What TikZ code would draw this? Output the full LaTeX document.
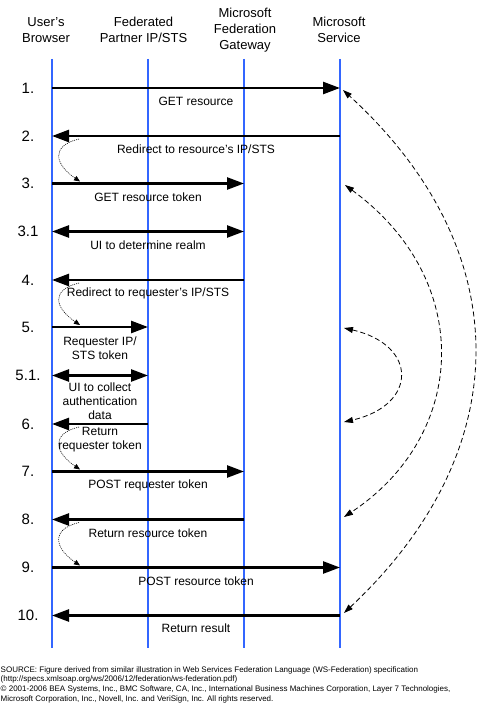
\documentclass[tikz,border=0pt]{standalone}
\usepackage{fontspec}
\setmainfont{Liberation Sans}
\usetikzlibrary{arrows.meta,calc}
\definecolor{lifeblue}{RGB}{51,102,255}
\begin{document}
\begin{tikzpicture}[x=1pt,y=-1pt,
  life/.style={draw=lifeblue,line width=2.8pt},
  msg/.style={line width=2.5pt,-{Triangle[length=17pt,width=12pt]}},
  dmsg/.style={line width=2.5pt,{Triangle[length=17pt,width=12pt]}-{Triangle[length=17pt,width=12pt]}},
  num/.style={font=\fontsize{15}{18}\selectfont,inner sep=0pt},
  lbl/.style={font=\fontsize{12}{14}\selectfont,align=center,inner sep=0pt},
  hdr/.style={font=\fontsize{13}{16}\selectfont,align=center,inner sep=0pt},
  foot/.style={font=\fontsize{8}{9.6}\selectfont,anchor=base west,inner sep=0pt},
  loopback/.style={line width=0.6pt,dash pattern=on 1pt off 1pt,-{Triangle[length=6pt,width=5pt]}},
  spanarc/.style={line width=0.8pt,dash pattern=on 5pt off 3pt,{Triangle[length=9pt,width=6pt]}-{Triangle[length=9pt,width=6pt]}}
]
\useasboundingbox (0,0) rectangle (478,703);
\fill[white] (0,0) rectangle (478,703);

% headers
\node[hdr] (hB) at (46,30) {User's\\Browser};
\node[hdr] (hF) at (143.5,30) {Federated\\Partner IP/STS};
\node[hdr] (hG) at (245,30) {Microsoft\\Federation\\Gateway};
\node[hdr] (hS) at (339,30) {Microsoft\\Service};

% lifelines
\coordinate (B0) at (52,59);  \coordinate (B1) at (52,648);
\coordinate (F0) at (148,59); \coordinate (F1) at (148,648);
\coordinate (G0) at (244,59); \coordinate (G1) at (244,648);
\coordinate (S0) at (340,59); \coordinate (S1) at (340,648);
\draw[life] (B0) -- (B1);
\draw[life] (F0) -- (F1);
\draw[life] (G0) -- (G1);
\draw[life] (S0) -- (S1);

% step numbers
\node[num] (n1)  at (28,88)    {1.};
\node[num] (n2)  at (28,136)   {2.};
\node[num] (n3)  at (28,183.5) {3.};
\node[num] (n31) at (28,231.5) {3.1};
\node[num] (n4)  at (28,280)   {4.};
\node[num] (n5)  at (28,327)   {5.};
\node[num] (n51) at (28,375.5) {5.1.};
\node[num] (n6)  at (28,424)   {6.};
\node[num] (n7)  at (28,471.5) {7.};
\node[num] (n8)  at (28,519.5) {8.};
\node[num] (n9)  at (28,567.5) {9.};
\node[num] (n10) at (28,615.5) {10.};

% messages
\draw[msg]  (B0|-n1)  -- (S0|-n1);
\draw[msg]  (S0|-n2)  -- (B0|-n2);
\draw[msg]  (B0|-n3)  -- (G0|-n3);
\draw[dmsg] (B0|-n31) -- (G0|-n31);
\draw[msg]  (G0|-n4)  -- (B0|-n4);
\draw[msg]  (B0|-n5)  -- (F0|-n5);
\draw[dmsg] (B0|-n51) -- (F0|-n51);
\draw[msg]  (F0|-n6)  -- (B0|-n6);
\draw[msg]  (B0|-n7)  -- (G0|-n7);
\draw[msg]  (G0|-n8)  -- (B0|-n8);
\draw[msg]  (B0|-n9)  -- (S0|-n9);
\draw[msg]  (S0|-n10) -- (B0|-n10);

% message labels
\node[lbl] (l1)  at (196,101)   {GET resource};
\node[lbl] (l2)  at (196,149.3) {Redirect to resource's IP/STS};
\node[lbl] (l3)  at (148,197.3) {GET resource token};
\node[lbl] (l31) at (148,245.3) {UI to determine realm};
\node[lbl] (l4)  at (148,293)   {Redirect to requester's IP/STS};
\node[lbl] (l5)  at (100,348.3) {Requester IP/\\STS token};
\node[lbl] (l51) at (100,401)   {UI to collect\\authentication\\data};
\node[lbl] (l6)  at (100,439.7) {Return\\requester token};
\node[lbl] (l7)  at (148,485)   {POST requester token};
\node[lbl] (l8)  at (148,533)   {Return resource token};
\node[lbl] (l9)  at (196,581)   {POST resource token};
\node[lbl] (l10) at (196,628.7) {Return result};

% dotted loop-backs at the browser
\coordinate (d2a) at ($(B0|-n2)+(27,3)$);  \coordinate (d3b) at ($(B0|-n3)+(28,-2)$);
\coordinate (d4a) at ($(B0|-n4)+(27,3)$);  \coordinate (d5b) at ($(B0|-n5)+(28,-2)$);
\coordinate (d6a) at ($(B0|-n6)+(27,3)$);  \coordinate (d7b) at ($(B0|-n7)+(28,-2)$);
\coordinate (d8a) at ($(B0|-n8)+(27,3)$);  \coordinate (d9b) at ($(B0|-n9)+(28,-2)$);
\draw[loopback] (d2a) .. controls +(-29,7) and +(-25,-17) .. (d3b);
\draw[loopback] (d4a) .. controls +(-29,7) and +(-25,-17) .. (d5b);
\draw[loopback] (d6a) .. controls +(-29,7) and +(-25,-17) .. (d7b);
\draw[loopback] (d8a) .. controls +(-29,7) and +(-25,-17) .. (d9b);

% dashed arcs at the service
\coordinate (a1)  at (343,90);
\coordinate (a10) at (344,613);
\coordinate (a3)  at (345,185);
\coordinate (a8)  at (344,517);
\coordinate (a5)  at (344,328);
\coordinate (a6)  at (344,422);
\draw[spanarc] (a10) .. controls (518,450) and (518,250) .. (a1);
\draw[spanarc] (a3) .. controls (475,280) and (468,435) .. (a8);
\draw[spanarc] (a5) .. controls (418,345) and (418,405) .. (a6);

% footer
\node[foot] (f1) at (0.5,672.3) {SOURCE: Figure derived from similar illustration in Web Services Federation Language (WS-Federation) specification};
\node[foot] (f2) at (0.5,681.9) {(http://specs.xmlsoap.org/ws/2006/12/federation/ws-federation.pdf)};
\node[foot] (f3) at (0.5,691.5) {© 2001-2006 BEA Systems, Inc., BMC Software, CA, Inc., International Business Machines Corporation, Layer 7 Technologies,};
\node[foot] (f4) at (0.5,701)   {Microsoft Corporation, Inc., Novell, Inc. and VeriSign, Inc. All rights reserved.};
\end{tikzpicture}
\end{document}
